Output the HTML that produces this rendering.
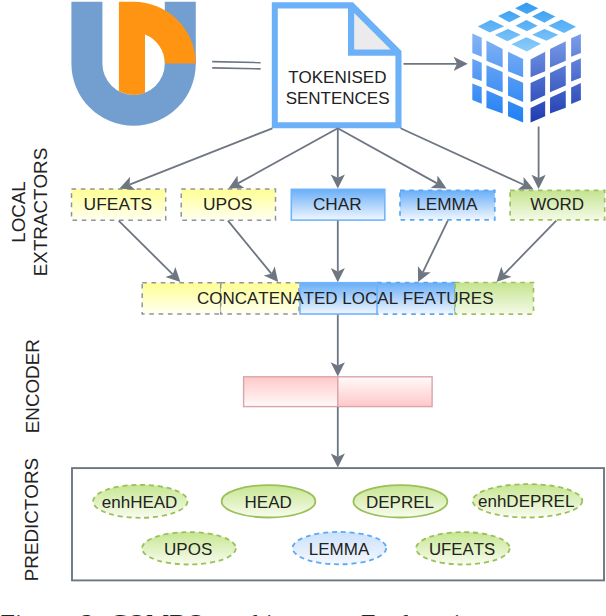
<!DOCTYPE html>
<html lang="en"><head><meta charset="utf-8"><title>COMBO architecture</title>
<style>
html,body{margin:0;padding:0;background:#fff;}
body{width:606px;height:616px;overflow:hidden;}
svg{display:block;}
</style></head>
<body>
<svg width="606" height="616" viewBox="0 0 606 616">
<defs>
<linearGradient id="gy" x1="0" y1="0" x2="0" y2="1"><stop offset="0" stop-color="#ffff93"/><stop offset="1" stop-color="#fffff2"/></linearGradient>
<linearGradient id="gb" x1="0" y1="0" x2="0" y2="1"><stop offset="0" stop-color="#69aef8"/><stop offset="1" stop-color="#f1f7fe"/></linearGradient>
<linearGradient id="gg" x1="0" y1="0" x2="0" y2="1"><stop offset="0" stop-color="#c4e48e"/><stop offset="1" stop-color="#f4fae8"/></linearGradient>
<linearGradient id="gp1" x1="0" y1="0" x2="0" y2="1"><stop offset="0" stop-color="#ffc8c8"/><stop offset="1" stop-color="#fffafa"/></linearGradient>
<linearGradient id="gp2" x1="0" y1="0" x2="0" y2="1"><stop offset="0" stop-color="#fffafa"/><stop offset="1" stop-color="#ffc8c8"/></linearGradient>
<linearGradient id="geg" x1="0" y1="0" x2="0" y2="1"><stop offset="0" stop-color="#c6e690"/><stop offset="1" stop-color="#f8fcef"/></linearGradient>
<linearGradient id="geb" x1="0" y1="0" x2="0" y2="1"><stop offset="0" stop-color="#cbe1fb"/><stop offset="1" stop-color="#f4f8fe"/></linearGradient>
<linearGradient id="cl" gradientUnits="userSpaceOnUse" x1="0" y1="33" x2="0" y2="122"><stop offset="0" stop-color="#86b4f4"/><stop offset="1" stop-color="#1f80f4"/></linearGradient>
<linearGradient id="cr" gradientUnits="userSpaceOnUse" x1="0" y1="33" x2="0" y2="122"><stop offset="0" stop-color="#7ca0ea"/><stop offset="1" stop-color="#1f3cb0"/></linearGradient>
<linearGradient id="ct" gradientUnits="userSpaceOnUse" x1="0" y1="2" x2="0" y2="52"><stop offset="0" stop-color="#2f9af2"/><stop offset="1" stop-color="#8fcdfb"/></linearGradient>
</defs>
<path d="M71.40,1.8 L102.40,1.8 L102.40,63.6 A31.2,31.2 0 0 0 164.80,63.6 L164.80,1.8 L195.80,1.8 L195.80,63.6 A62.2,62.2 0 0 1 71.40,63.6 Z" fill="#739fd0"/>
<path d="M118.9,1.8 L133.60,1.8 A62.2,62.2 0 0 1 195.80,63.6 L164.80,63.6 A31.2,31.2 0 0 0 145.0,34.56 L145.0,92.64 A31.2,31.2 0 0 1 118.9,91.12 Z" fill="#ff9412"/>
<line x1="212.2" y1="61.6" x2="260.6" y2="62.6" stroke="#6e7682" stroke-width="1.6"/>
<line x1="212.2" y1="67.9" x2="260.6" y2="68.9" stroke="#6e7682" stroke-width="1.6"/>
<polygon points="271.8,2.2 352.9,2.2 401.5,50.9 401.5,128.2 271.8,128.2" fill="#6cb0f7"/>
<polygon points="277.8,8.4 348,8.4 348,55.7 395.4,55.7 395.4,122.19999999999999 277.8,122.19999999999999" fill="#fff"/>
<polygon points="354.2,13 354.2,49.5 390.7,49.5" fill="#ebebed"/>
<polygon points="526.47,2.48 538.23,8.25 526.88,14.03 515.12,8.25" fill="url(#ct)"/>
<polygon points="509.35,10.73 520.69,16.50 509.35,22.28 498.00,16.09" fill="url(#ct)"/>
<polygon points="543.38,10.73 555.35,16.50 544.41,22.69 532.04,16.50" fill="url(#ct)"/>
<polygon points="490.78,20.01 504.19,26.20 489.75,32.59 477.79,26.40" fill="url(#ct)"/>
<polygon points="526.47,20.01 537.61,25.78 526.88,31.35 515.54,25.78" fill="url(#ct)"/>
<polygon points="561.53,19.60 575.97,26.82 564.01,33.00 548.54,25.78" fill="url(#ct)"/>
<polygon points="507.90,28.88 520.69,34.65 507.29,41.25 494.91,35.07" fill="url(#ct)"/>
<polygon points="544.41,28.88 558.23,34.65 546.48,40.84 532.04,34.65" fill="url(#ct)"/>
<polygon points="526.47,37.13 540.91,43.73 526.88,51.57 511.41,44.35" fill="url(#ct)"/>
<polygon points="472.31,33.44 481.72,37.66 481.72,56.66 472.31,52.92" fill="url(#cl)"/>
<polygon points="472.31,58.77 481.72,62.66 481.72,81.01 472.31,77.76" fill="url(#cl)"/>
<polygon points="472.31,83.44 481.72,87.18 481.72,103.73 472.31,100.00" fill="url(#cl)"/>
<polygon points="486.43,40.42 502.66,49.03 502.66,67.53 486.43,60.71" fill="url(#cl)"/>
<polygon points="486.43,65.26 502.66,72.08 502.66,92.37 486.43,85.88" fill="url(#cl)"/>
<polygon points="486.43,90.26 502.66,97.24 502.66,113.47 486.43,107.79" fill="url(#cl)"/>
<polygon points="508.02,51.79 523.12,59.09 523.12,77.27 508.02,71.27" fill="url(#cl)"/>
<polygon points="508.02,76.14 523.12,82.63 523.12,102.11 508.02,95.62" fill="url(#cl)"/>
<polygon points="508.02,100.97 523.12,107.79 523.12,122.40 508.02,116.23" fill="url(#cl)"/>
<polygon points="530.55,59.42 545.16,51.79 545.16,71.27 530.55,77.27" fill="url(#cr)"/>
<polygon points="530.55,83.12 545.16,76.14 545.16,95.13 530.55,102.11" fill="url(#cr)"/>
<polygon points="530.55,108.12 545.16,100.97 545.16,116.23 530.55,122.40" fill="url(#cr)"/>
<polygon points="550.03,49.03 565.78,41.23 565.78,60.71 550.03,67.53" fill="url(#cr)"/>
<polygon points="550.03,72.89 565.78,65.58 565.78,85.39 550.03,92.37" fill="url(#cr)"/>
<polygon points="550.03,97.73 565.78,90.42 565.78,107.79 550.03,113.47" fill="url(#cr)"/>
<polygon points="571.14,38.31 580.88,33.93 580.88,52.92 571.14,56.66" fill="url(#cr)"/>
<polygon points="571.14,62.66 580.88,58.28 580.88,77.76 571.14,81.49" fill="url(#cr)"/>
<polygon points="571.14,87.50 580.88,83.12 580.88,100.00 571.14,104.06" fill="url(#cr)"/>
<rect x="71.5" y="189.1" width="94.2" height="31.1" fill="url(#gy)" stroke="#8e93a3" stroke-width="1.5" stroke-dasharray="4.6 4.7"/>
<rect x="181.2" y="189.1" width="94.3" height="31.1" fill="url(#gy)" stroke="#8e93a3" stroke-width="1.5" stroke-dasharray="4.6 4.7"/>
<rect x="291.3" y="189.3" width="93.5" height="30.8" fill="url(#gb)" stroke="#70b6fb" stroke-width="1.6"/>
<rect x="400.0" y="190.3" width="94.8" height="29.5" fill="url(#gb)" stroke="#55a8f8" stroke-width="1.7" stroke-dasharray="4.6 4.7"/>
<rect x="510.1" y="190.3" width="94.6" height="29.6" fill="url(#gg)" stroke="#a0c060" stroke-width="1.7" stroke-dasharray="4.6 4.7"/>
<rect x="142.2" y="282.7" width="78.5" height="31.4" fill="url(#gy)" stroke="#8e93a3" stroke-width="1.5" stroke-dasharray="4.6 4.7"/>
<rect x="220.7" y="282.7" width="78.3" height="31.4" fill="url(#gy)" stroke="#8e93a3" stroke-width="1.5" stroke-dasharray="4.6 4.7"/>
<rect x="377.0" y="282.5" width="78.0" height="31.6" fill="url(#gb)" stroke="#55a8f8" stroke-width="1.7" stroke-dasharray="4.6 4.7"/>
<rect x="300.0" y="282.7" width="77.0" height="31.3" fill="url(#gb)" stroke="#70b6fb" stroke-width="1.6"/>
<rect x="455.2" y="282.5" width="78.3" height="31.6" fill="url(#gg)" stroke="#a0c060" stroke-width="1.7" stroke-dasharray="4.6 4.7"/>
<rect x="243.6" y="376.8" width="94.2" height="29.8" fill="url(#gp1)" stroke="#d9a5a8" stroke-width="1.4"/>
<rect x="337.8" y="376.8" width="94.3" height="29.8" fill="url(#gp2)" stroke="#d9a5a8" stroke-width="1.4"/>
<rect x="72.0" y="468.1" width="532.0" height="112.3" fill="none" stroke="#6e7682" stroke-width="1.9"/>
<ellipse cx="140.3" cy="501.3" rx="47.2" ry="16.5" fill="url(#geg)" stroke="#9bc05a" stroke-width="1.8" stroke-dasharray="5 3.8"/>
<ellipse cx="268.5" cy="501.3" rx="46.9" ry="16.2" fill="url(#geg)" stroke="#9bc05a" stroke-width="1.8"/>
<ellipse cx="400.4" cy="501.3" rx="47.0" ry="16.2" fill="url(#geg)" stroke="#9bc05a" stroke-width="1.8"/>
<ellipse cx="527.5" cy="500.8" rx="54.8" ry="16.7" fill="url(#geg)" stroke="#9bc05a" stroke-width="1.8" stroke-dasharray="5 3.8"/>
<ellipse cx="188.9" cy="548.3" rx="46.9" ry="16.2" fill="url(#geg)" stroke="#9bc05a" stroke-width="1.8" stroke-dasharray="5 3.8"/>
<ellipse cx="339.4" cy="548.1" rx="46.8" ry="16.2" fill="url(#geb)" stroke="#5aabf5" stroke-width="1.8" stroke-dasharray="5 3.8"/>
<ellipse cx="462.9" cy="548.3" rx="46.8" ry="16.2" fill="url(#geg)" stroke="#9bc05a" stroke-width="1.8" stroke-dasharray="5 3.8"/>
<line x1="403.50" y1="63.80" x2="457.00" y2="63.80" stroke="#6e7682" stroke-width="1.8"/><polygon points="467.80,63.80 453.60,70.90 457.00,63.80 453.60,56.70" fill="#6e7682"/>
<line x1="272.40" y1="128.30" x2="129.55" y2="184.64" stroke="#6e7682" stroke-width="1.8"/><polygon points="119.50,188.60 130.11,176.79 129.55,184.64 135.31,190.00" fill="#6e7682"/>
<line x1="337.80" y1="128.30" x2="237.96" y2="183.38" stroke="#6e7682" stroke-width="1.8"/><polygon points="228.50,188.60 237.50,175.52 237.96,183.38 244.36,187.96" fill="#6e7682"/>
<line x1="337.80" y1="128.30" x2="337.80" y2="177.80" stroke="#6e7682" stroke-width="1.8"/><polygon points="337.80,188.60 330.70,174.40 337.80,177.80 344.90,174.40" fill="#6e7682"/>
<line x1="337.80" y1="128.30" x2="437.06" y2="183.36" stroke="#6e7682" stroke-width="1.8"/><polygon points="446.50,188.60 430.64,187.92 437.06,183.36 437.53,175.50" fill="#6e7682"/>
<line x1="400.60" y1="128.30" x2="523.68" y2="184.79" stroke="#6e7682" stroke-width="1.8"/><polygon points="533.50,189.30 517.63,189.83 523.68,184.79 523.56,176.92" fill="#6e7682"/>
<line x1="538.60" y1="126.50" x2="538.60" y2="178.10" stroke="#6e7682" stroke-width="1.8"/><polygon points="538.60,188.90 531.50,174.70 538.60,178.10 545.70,174.70" fill="#6e7682"/>
<line x1="118.60" y1="220.60" x2="172.74" y2="274.39" stroke="#6e7682" stroke-width="1.8"/><polygon points="180.40,282.00 165.32,277.03 172.74,274.39 175.33,266.96" fill="#6e7682"/>
<line x1="227.90" y1="220.60" x2="271.36" y2="273.65" stroke="#6e7682" stroke-width="1.8"/><polygon points="278.20,282.00 263.71,275.51 271.36,273.65 274.69,266.52" fill="#6e7682"/>
<line x1="337.80" y1="220.60" x2="337.80" y2="271.50" stroke="#6e7682" stroke-width="1.8"/><polygon points="337.80,282.30 330.70,268.10 337.80,271.50 344.90,268.10" fill="#6e7682"/>
<line x1="447.80" y1="220.60" x2="422.80" y2="272.28" stroke="#6e7682" stroke-width="1.8"/><polygon points="418.10,282.00 417.89,266.13 422.80,272.28 430.67,272.31" fill="#6e7682"/>
<line x1="556.30" y1="220.60" x2="504.04" y2="274.26" stroke="#6e7682" stroke-width="1.8"/><polygon points="496.50,282.00 501.32,266.87 504.04,274.26 511.49,276.78" fill="#6e7682"/>
<line x1="337.80" y1="314.60" x2="337.80" y2="365.60" stroke="#6e7682" stroke-width="1.8"/><polygon points="337.80,376.40 330.70,362.20 337.80,365.60 344.90,362.20" fill="#6e7682"/>
<line x1="337.80" y1="407.00" x2="337.80" y2="456.80" stroke="#6e7682" stroke-width="1.8"/><polygon points="337.80,467.60 330.70,453.40 337.80,456.80 344.90,453.40" fill="#6e7682"/>
<g font-family="'Liberation Sans', Arial, sans-serif" fill="#222" style="font-kerning:none">
<text x="337.3" y="83.2" font-size="17" text-anchor="middle" >TOKENISED</text>
<text x="337.6" y="103.6" font-size="17" text-anchor="middle" >SENTENCES</text>
<text x="117.9" y="209.8" font-size="17.4" text-anchor="middle" >UFEATS</text>
<text x="227.7" y="209.8" font-size="17.4" text-anchor="middle" >UPOS</text>
<text x="337.3" y="209.8" font-size="17.2" text-anchor="middle" >CHAR</text>
<text x="446.8" y="209.8" font-size="17.2" text-anchor="middle" >LEMMA</text>
<text x="557.2" y="209.8" font-size="17" text-anchor="middle" >WORD</text>
<text x="345.2" y="303.7" font-size="17" text-anchor="middle" >CONCATENATED LOCAL FEATURES</text>
<text x="139.6" y="507.8" font-size="17" text-anchor="middle" >enhHEAD</text>
<text x="268.2" y="507.8" font-size="17" text-anchor="middle" >HEAD</text>
<text x="400.0" y="507.8" font-size="17" text-anchor="middle" >DEPREL</text>
<text x="526.2" y="507.4" font-size="17" text-anchor="middle" >enhDEPREL</text>
<text x="188.2" y="554.6" font-size="17" text-anchor="middle" >UPOS</text>
<text x="339.0" y="554.5" font-size="17" text-anchor="middle" >LEMMA</text>
<text x="462.0" y="554.6" font-size="16.8" text-anchor="middle" >UFEATS</text>
<text transform="translate(25.1,212) rotate(-90)" font-size="18.8" text-anchor="middle">LOCAL</text>
<text transform="translate(46.8,212) rotate(-90)" font-size="18.8" text-anchor="middle">EXTRACTORS</text>
<text transform="translate(39.0,386.2) rotate(-90)" font-size="18.8" text-anchor="middle">ENCODER</text>
<text transform="translate(38.4,519.6) rotate(-90)" font-size="18.8" text-anchor="middle">PREDICTORS</text>
</g>
<g font-family="'Liberation Serif', 'Times New Roman', serif" font-size="26" fill="#222">
<text x="0.5" y="631.8">Figure</text>
<text x="81" y="631.8">2:</text>
<text x="110" y="631.8">COMBO</text>
<text x="221" y="631.8">architecture.</text>
<text x="361" y="631.8">Explanations</text>
</g>
</svg>
</body></html>
